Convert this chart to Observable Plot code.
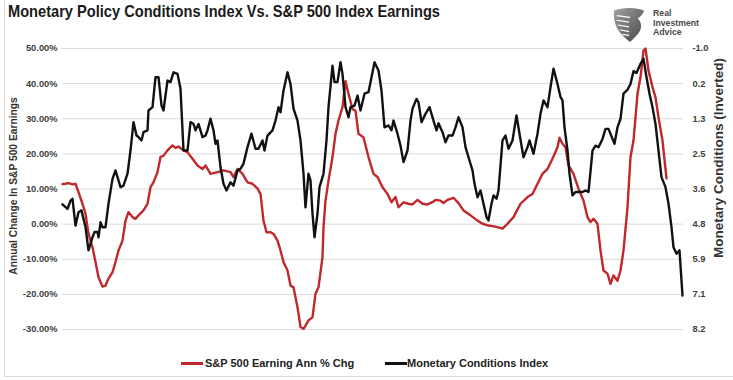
<!DOCTYPE html>
<html>
<head>
<meta charset="utf-8">
<script src="https://cdn.jsdelivr.net/npm/d3@7"></script>
<script src="https://cdn.jsdelivr.net/npm/@observablehq/plot@0.6"></script>
<style>
  html, body { margin: 0; padding: 0; background: #fff; }
  #root { position: relative; width: 733px; height: 380px; overflow: hidden; background: #fff;
          font-family: "Liberation Sans", Arial, sans-serif; }
  .abs { position: absolute; white-space: nowrap; display: inline-block; }
  #frame { position: absolute; left: 4px; top: -2px; width: 740px; height: 379px;
           border-left: 1px solid #d9d9d9; border-bottom: 1px solid #d9d9d9; box-sizing: border-box; }
  #chart { position: absolute; left: 0; top: 40px; }
  .logo { font-size: 9.6px; font-weight: bold; color: #4a4a4a; line-height: 8.6px; transform-origin: 0 0; }
</style>
</head>
<body>
<div id="root">
  <div id="frame"></div>
  <div id="title" class="abs" style="left:8px; top:2px; font-size:17px; font-weight:bold; color:#1a1a1a; transform-origin:0 0;">Monetary Policy Conditions Index Vs. S&amp;P 500 Index Earnings</div>
  <svg class="abs" style="left:611px; top:6px;" width="36" height="38" viewBox="0 0 38 40">
    <defs>
      <linearGradient id="lg" x1="0" y1="0" x2="1" y2="1">
        <stop offset="0" stop-color="#a0a0a0"/>
        <stop offset="1" stop-color="#474747"/>
      </linearGradient>
    </defs>
    <path d="M3,5 C12,1 27,1 35,5 C33,9 31,12 28,13 C31,16 33,20 31,25 C29,30 24,34 20,38 C14,33 8,28 5,20 C3,14 3,9 3,5 Z" fill="url(#lg)"/>
    <path d="M6,10 L20,12 M6,15 L19,17 M7,20 L19,22 M9,25 L19,27 M12,30 L19,31" stroke="#fff" stroke-width="1.3" fill="none"/>
  </svg>
  <div id="logo1" class="abs logo" style="left:653px; top:9px;">Real</div>
  <div id="logo2" class="abs logo" style="left:653px; top:18.5px;">Investment</div>
  <div id="logo3" class="abs logo" style="left:653px; top:28px;">Advice</div>
  <div id="ylabL" class="abs" style="left:13px; top:186px; font-size:10.5px; font-weight:bold; color:#333; transform:translate(-50%,-50%) rotate(-90deg);">Annual Change In S&amp;P 500 Earnings</div>
  <div id="ylabR" class="abs" style="left:718px; top:158px; font-size:10.5px; font-weight:bold; color:#333; transform:translate(-50%,-50%) rotate(-90deg);">Monetary Conditions (Inverted)</div>
  <div id="chart"></div>
  <div class="abs" style="left:181px; top:362px; width:22px; height:2.6px; background:#c0282d;"></div>
  <div class="abs" style="left:205px; top:356px; font-size:11px; font-weight:bold; color:#222; line-height:14px;">S&amp;P 500 Earning Ann % Chg</div>
  <div class="abs" style="left:385px; top:362px; width:22px; height:2.6px; background:#111;"></div>
  <div class="abs" style="left:407px; top:356px; font-size:11px; font-weight:bold; color:#222; line-height:14px;">Monetary Conditions Index</div>
</div>
<script>
// ---- Data ----
// Observation index (shared time axis, no labels shown on the original)
const redT = [0,3,6,10,13,16,20,23,25,26,30,33,36,40,43,46,50,53,56,60,63,66,70,73,76,81,85,88,91,95,98,101,105,110,113,116,121,125,130,135,140,143,148,155,161,168,171,175,180,185,190,195,198,201,204,208,211,215,218,221,225,228,231,235,238,241,243,246,250,253,256,260,261,263,266,270,273,276,280,283,286,290,293,296,301,306,311,315,320,325,329,333,336,341,346,350,355,360,365,371,373,378,381,385,391,396,401,408,415,420,426,433,440,445,451,458,465,470,475,480,485,490,495,497,500,503,506,511,516,521,525,528,531,535,538,541,545,548,551,555,558,561,565,568,571,575,578,581,583,586,590,593,596,600,604];
// S&P 500 earnings, annual % change
const redV = [11.4,11.5,11.7,11.3,11.5,9.1,5.8,3.0,-0.9,-2.7,-6.6,-10.8,-15.1,-17.8,-17.5,-15.5,-13.7,-10.8,-7.5,-4.7,1.0,3.4,2.0,1.5,2.5,3.9,5.8,10.5,11.9,14.8,19.1,19.5,21.0,22.4,21.7,22.1,21.0,20.5,18.6,16.7,15.7,16.7,14.3,14.8,15.3,14.8,13.4,15.7,14.3,11.9,11.5,10.1,8.6,1.0,-2.3,-2.3,-2.8,-4.7,-7.5,-10.8,-13.2,-17.5,-18.0,-23.7,-29.3,-29.8,-28.9,-27.4,-26.5,-19.8,-18.0,-9.4,-0.9,6.7,12.4,19.1,25.7,29.5,33.3,40.7,37.1,32.8,32.3,25.7,24.7,19.1,14.3,13.4,10.5,8.6,6.2,7.7,4.8,6.2,5.8,5.6,6.9,5.8,5.6,6.4,6.9,6.7,6.0,6.9,7.5,6.0,3.9,2.5,1.0,0.1,-0.4,-0.7,-1.3,0.1,2.0,5.8,7.7,8.6,11.5,14.3,15.7,18.6,21.9,24.6,22.9,21.9,16.7,14.3,10.1,6.7,2.0,0.6,1.5,0.1,-7.5,-13.2,-14.1,-17.0,-14.6,-16.1,-13.2,-7.5,4.8,19.1,23.8,37.1,41.8,49.4,50.0,43.7,39.0,36.1,30.4,23.8,13.0];

const mciT = [0,5,8,10,13,16,19,23,26,30,32,35,36,38,40,43,46,50,53,58,61,65,68,71,74,76,79,81,85,86,90,93,96,99,101,105,108,111,115,118,121,125,128,131,133,136,140,143,145,148,151,153,155,158,161,164,168,171,175,178,181,185,189,193,196,200,202,205,210,213,216,218,221,225,228,231,235,238,241,243,246,248,250,252,255,257,260,261,264,266,270,272,275,278,280,283,286,288,292,295,298,302,306,310,312,316,319,322,326,329,331,335,338,341,345,348,350,354,356,359,363,367,371,374,376,380,383,386,390,393,396,400,403,406,410,412,415,418,421,424,426,429,431,434,436,440,443,446,450,454,457,461,465,467,471,475,478,481,485,488,491,495,498,500,502,505,507,510,513,516,520,523,526,530,533,536,540,543,546,550,552,555,558,561,565,568,571,574,578,581,584,587,590,593,596,599,603,606,609,611,614,617,620];
// Monetary Conditions Index (plotted on an inverted right-hand scale)
const mciV = [4.10,4.25,3.98,3.92,4.80,4.36,4.30,4.85,5.61,5.18,5.01,5.01,5.18,4.69,4.85,4.85,4.08,3.27,2.99,3.54,3.49,3.10,2.34,1.41,1.85,1.90,2.01,1.74,1.68,1.03,0.92,-0.06,-0.06,0.87,1.03,0.05,0.10,-0.22,-0.17,0.32,2.34,2.34,1.41,1.47,1.68,1.47,1.90,1.85,1.68,1.30,1.68,2.12,2.01,2.89,3.43,3.65,3.38,3.49,2.99,2.94,2.77,2.23,1.79,2.28,2.28,2.01,2.34,1.85,1.68,1.36,0.92,1.09,0.38,-0.22,0.16,0.97,1.36,2.01,3.10,4.20,3.10,3.32,4.41,5.18,4.41,3.54,3.21,3.10,2.01,0.92,-0.44,0.10,0.10,-0.55,-0.17,0.92,1.25,0.92,0.87,0.54,1.03,0.48,0.43,-0.22,-0.55,-0.28,0.38,1.58,1.52,1.68,1.36,1.79,2.18,2.72,2.34,1.36,0.97,0.65,0.76,1.41,1.14,0.92,1.36,1.68,1.45,1.74,2.07,1.85,1.85,1.58,1.25,1.58,2.23,2.56,2.99,3.43,3.87,3.65,4.08,4.52,4.63,4.08,3.81,3.92,3.65,2.01,1.85,2.28,2.01,1.19,1.79,2.56,2.23,2.01,2.45,1.79,1.14,0.70,0.92,0.27,-0.34,0.16,0.59,0.70,1.58,2.34,3.10,3.81,3.70,3.70,3.70,3.65,3.70,2.34,2.18,2.23,1.96,1.63,1.63,1.96,2.12,1.58,1.30,0.48,0.35,0.16,-0.26,-0.20,-0.50,-0.66,-0.06,0.48,0.92,1.47,2.34,3.21,3.54,4.08,4.85,5.51,5.72,5.61,7.09];

// Axis ticks
const leftTicks = [-30, -20, -10, 0, 10, 20, 30, 40, 50];
const rightTickValues = [-1.0, 0.15, 1.3, 2.45, 3.6, 4.75, 5.9, 7.05, 8.2];
const rightTickLabels = ["-1.0", "0.2", "1.3", "2.5", "3.6", "4.8", "5.9", "7.1", "8.2"];
const mciMin = -1.0, mciMax = 8.2;

// ---- Build tables ----
const toPct = m => 50 - (m - mciMin) / (mciMax - mciMin) * 80;
const redData = redT.map((t, i) => ({t, v: redV[i]}));
const mciData = mciT.map((t, i) => ({t, m: mciV[i]}));
const rightPos = rightTickValues.map(toPct);
const rightFmt = d => {
  const i = rightPos.findIndex(p => Math.abs(p - d) < 1e-6);
  return i >= 0 ? rightTickLabels[i] : "";
};

const chart = Plot.plot({
  width: 733,
  height: 300,
  marginLeft: 62,
  marginRight: 50,
  marginTop: 8,
  marginBottom: 11,
  style: {fontFamily: "Liberation Sans, Arial, sans-serif", fontSize: "9.3px", fontWeight: "bold", color: "#404040", background: "transparent", overflow: "visible"},
  x: {domain: [0, 621], axis: null},
  y: {domain: [-30, 50], axis: null, label: null},
  marks: [
    Plot.gridY(leftTicks, {stroke: "#d9d9d9", strokeOpacity: 1, strokeWidth: 1}),
    Plot.axisY(leftTicks, {anchor: "left", tickSize: 0, tickPadding: 5, label: null, tickFormat: d => d.toFixed(2) + "%"}),
    Plot.axisY(rightPos, {anchor: "right", tickSize: 0, tickPadding: 9, label: null, tickFormat: rightFmt}),
    Plot.line(redData, {x: "t", y: "v", stroke: "#c0282d", strokeWidth: 2.4}),
    Plot.line(mciData, {x: "t", y: d => toPct(d.m), stroke: "#111", strokeWidth: 2.4})
  ]
});
document.getElementById("chart").appendChild(chart);

// ---- Fit text widths to the reference layout ----
function scaleX(id, target) {
  const el = document.getElementById(id);
  const w = el.getBoundingClientRect().width;
  el.style.transform = `scaleX(${target / w})`;
}
function fitFont(id, target) {
  const el = document.getElementById(id);
  const w = el.offsetWidth;
  const fs = parseFloat(getComputedStyle(el).fontSize);
  el.style.fontSize = (fs * target / w) + "px";
}
scaleX("title", 432);
// logo lines share one horizontal compression (based on the widest line)
(function () {
  const w = document.getElementById("logo2").getBoundingClientRect().width;
  const k = 46 / w;
  ["logo1", "logo2", "logo3"].forEach(id => {
    document.getElementById(id).style.transform = `scaleX(${k})`;
  });
})();
fitFont("ylabL", 178);
fitFont("ylabR", 200);
</script>
</body>
</html>
